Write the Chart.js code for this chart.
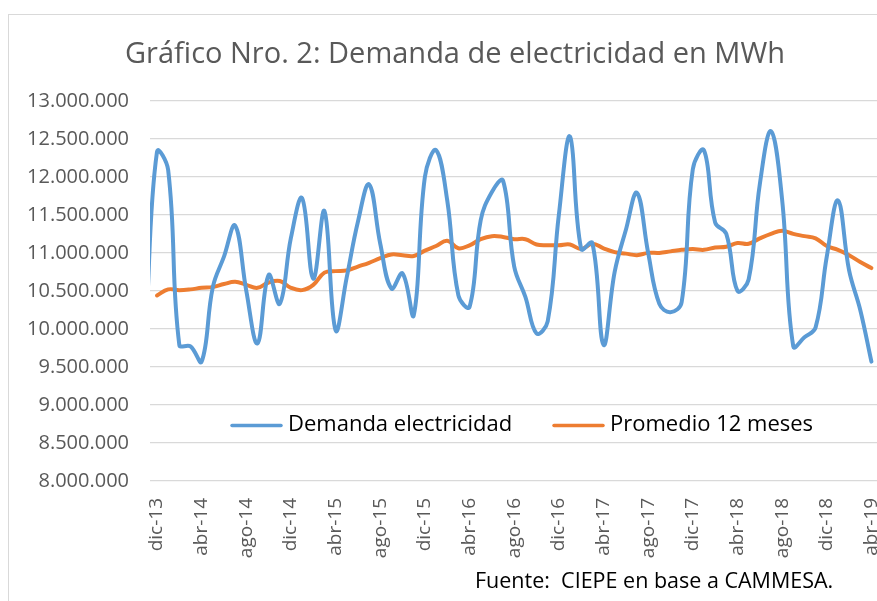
<!DOCTYPE html>
<html>
<head>
<meta charset="utf-8">
<script src="https://cdn.jsdelivr.net/npm/chart.js@4.4.1/dist/chart.umd.min.js"></script>
<style>
    html, body { margin: 0; padding: 0; background: #ffffff; }
    #wrap { width: 877px; height: 601px; position: relative; }
</style>
</head>
<body>
<div id="wrap"><canvas id="demanda-graph" width="877" height="601"></canvas></div>
<script>
// meses (nov-13 queda fuera del area visible, solo da la pendiente inicial)
var meses = [
    'nov-13', 'dic-13',
    'ene-14', 'feb-14', 'mar-14', 'abr-14', 'may-14', 'jun-14', 'jul-14', 'ago-14', 'sep-14', 'oct-14', 'nov-14', 'dic-14',
    'ene-15', 'feb-15', 'mar-15', 'abr-15', 'may-15', 'jun-15', 'jul-15', 'ago-15', 'sep-15', 'oct-15', 'nov-15', 'dic-15',
    'ene-16', 'feb-16', 'mar-16', 'abr-16', 'may-16', 'jun-16', 'jul-16', 'ago-16', 'sep-16', 'oct-16', 'nov-16', 'dic-16',
    'ene-17', 'feb-17', 'mar-17', 'abr-17', 'may-17', 'jun-17', 'jul-17', 'ago-17', 'sep-17', 'oct-17', 'nov-17', 'dic-17',
    'ene-18', 'feb-18', 'mar-18', 'abr-18', 'may-18', 'jun-18', 'jul-18', 'ago-18', 'sep-18', 'oct-18', 'nov-18', 'dic-18',
    'ene-19', 'feb-19', 'mar-19', 'abr-19'
];

var demanda = [
    10000000, 12330000,
    12090000, 9790000, 9770000, 9570000, 10550000, 10950000, 11360000, 10500000, 9810000, 10710000, 10330000, 11200000,
    11720000, 10660000, 11550000, 9980000, 10680000, 11410000, 11900000, 11120000, 10530000, 10730000, 10180000, 12000000,
    12350000, 11690000, 10440000, 10290000, 11430000, 11800000, 11950000, 10820000, 10420000, 9940000, 10100000, 11500000,
    12530000, 11050000, 11130000, 9790000, 10750000, 11300000, 11790000, 11000000, 10330000, 10220000, 10350000, 12100000,
    12350000, 11400000, 11250000, 10500000, 10650000, 11900000, 12600000, 11700000, 9770000, 9890000, 10020000, 10950000,
    11690000, 10770000, 10250000, 9570000
];

var promedio = [
    null, 10440000,
    10520000, 10510000, 10520000, 10540000, 10550000, 10590000, 10620000, 10580000, 10540000, 10610000, 10630000, 10540000,
    10510000, 10580000, 10740000, 10760000, 10770000, 10820000, 10870000, 10930000, 10980000, 10970000, 10960000, 11030000,
    11090000, 11160000, 11060000, 11100000, 11180000, 11220000, 11210000, 11180000, 11180000, 11110000, 11100000, 11100000,
    11110000, 11050000, 11120000, 11060000, 11010000, 10990000, 10970000, 11000000, 11000000, 11020000, 11040000, 11050000,
    11040000, 11070000, 11080000, 11130000, 11120000, 11190000, 11250000, 11290000, 11250000, 11220000, 11190000, 11090000,
    11040000, 10970000, 10880000, 10800000
];

var etiquetasX = ['dic-13', 'abr-14', 'ago-14', 'dic-14', 'abr-15', 'ago-15', 'dic-15', 'abr-16', 'ago-16',
    'dic-16', 'abr-17', 'ago-17', 'dic-17', 'abr-18', 'ago-18', 'dic-18', 'abr-19'];

var yMin = 8000000;
var yMax = 13000000;
var yPaso = 500000;

var FONT = "'Open Sans', sans-serif";

function formatoMiles(v) {
    return String(Math.round(v)).replace(/\B(?=(\d{3})+(?!\d))/g, '.');
}

function aPuntos(serie) {
    return serie.map(function(v, i) { return { x: i, y: v }; });
}

// borde del grafico, leyenda interna y fuente
var extrasPlugin = {
    id: 'extras',
    beforeDraw: function(chart) {
        var ctx = chart.ctx;
        ctx.save();
        ctx.fillStyle = '#ffffff';
        ctx.fillRect(0, 0, chart.width, chart.height);
        ctx.strokeStyle = '#d9d9d9';
        ctx.lineWidth = 1;
        ctx.strokeRect(8.5, 14.5, chart.width + 10, chart.height + 10);
        ctx.restore();
    },
    afterDraw: function(chart) {
        var ctx = chart.ctx;
        var items = [
            { x: 232, ds: chart.data.datasets[0] },
            { x: 554, ds: chart.data.datasets[1] }
        ];
        ctx.save();
        ctx.font = '22px ' + FONT;
        ctx.textBaseline = 'middle';
        ctx.textAlign = 'left';
        items.forEach(function(it) {
            ctx.strokeStyle = it.ds.borderColor;
            ctx.lineWidth = 3.5;
            ctx.lineCap = 'round';
            ctx.beginPath();
            ctx.moveTo(it.x, 425.5);
            ctx.lineTo(it.x + 49, 425.5);
            ctx.stroke();
            ctx.fillStyle = '#000000';
            ctx.fillText(it.ds.label, it.x + 56, 425);
        });
        ctx.font = '21.5px ' + FONT;
        ctx.fillText('Fuente:  CIEPE en base a CAMMESA.', 475, 582);
        ctx.restore();
    }
};

var ctx = document.getElementById('demanda-graph').getContext('2d');
var demandaChart = new Chart(ctx, {
    type: 'line',
    data: {
        datasets: [{
            label: 'Demanda electricidad',
            data: aPuntos(demanda),
            borderColor: '#5b9bd5',
            borderWidth: 4,
            tension: 0.4,
            pointRadius: 0,
            borderCapStyle: 'round',
            borderJoinStyle: 'round',
            fill: false
        }, {
            label: 'Promedio 12 meses',
            data: aPuntos(promedio),
            borderColor: '#ed7d31',
            borderWidth: 4,
            tension: 0.4,
            pointRadius: 0,
            borderCapStyle: 'round',
            borderJoinStyle: 'round',
            spanGaps: false,
            fill: false
        }]
    },
    options: {
        responsive: false,
        animation: false,
        devicePixelRatio: 1,
        layout: {
            // el grafico original sigue mas alla del borde derecho (recortado)
            padding: { left: 20, right: -13, top: 14, bottom: 0 }
        },
        plugins: {
            legend: { display: false },
            tooltip: { enabled: false },
            title: {
                display: true,
                text: 'Gráfico Nro. 2: Demanda de electricidad en MWh',
                color: '#595959',
                font: { family: FONT, size: 29, weight: 'normal' },
                padding: { top: 23, bottom: 29 }
            }
        },
        scales: {
            x: {
                type: 'linear',
                min: 0.373,
                max: 65.5,
                grid: { display: false, drawTicks: false },
                border: { display: false },
                afterBuildTicks: function(scale) {
                    scale.ticks = etiquetasX.map(function(m) { return { value: meses.indexOf(m) }; });
                },
                afterFit: function(scale) {
                    scale.height = 120;
                    scale.paddingLeft = 0;
                    scale.paddingRight = 0;
                },
                ticks: {
                    autoSkip: false,
                    minRotation: 90,
                    maxRotation: 90,
                    padding: 17,
                    color: '#595959',
                    font: { family: FONT, size: 19 },
                    callback: function(value) { return meses[value]; }
                }
            },
            y: {
                min: yMin,
                max: yMax,
                grid: { color: '#d9d9d9', lineWidth: 1.3, drawTicks: false },
                border: { display: false },
                afterFit: function(scale) { scale.width = 130; },
                ticks: {
                    stepSize: yPaso,
                    padding: 21,
                    color: '#595959',
                    font: { family: FONT, size: 20 },
                    callback: function(value) { return formatoMiles(value); }
                }
            }
        }
    },
    plugins: [extrasPlugin]
});
</script>
</body>
</html>
